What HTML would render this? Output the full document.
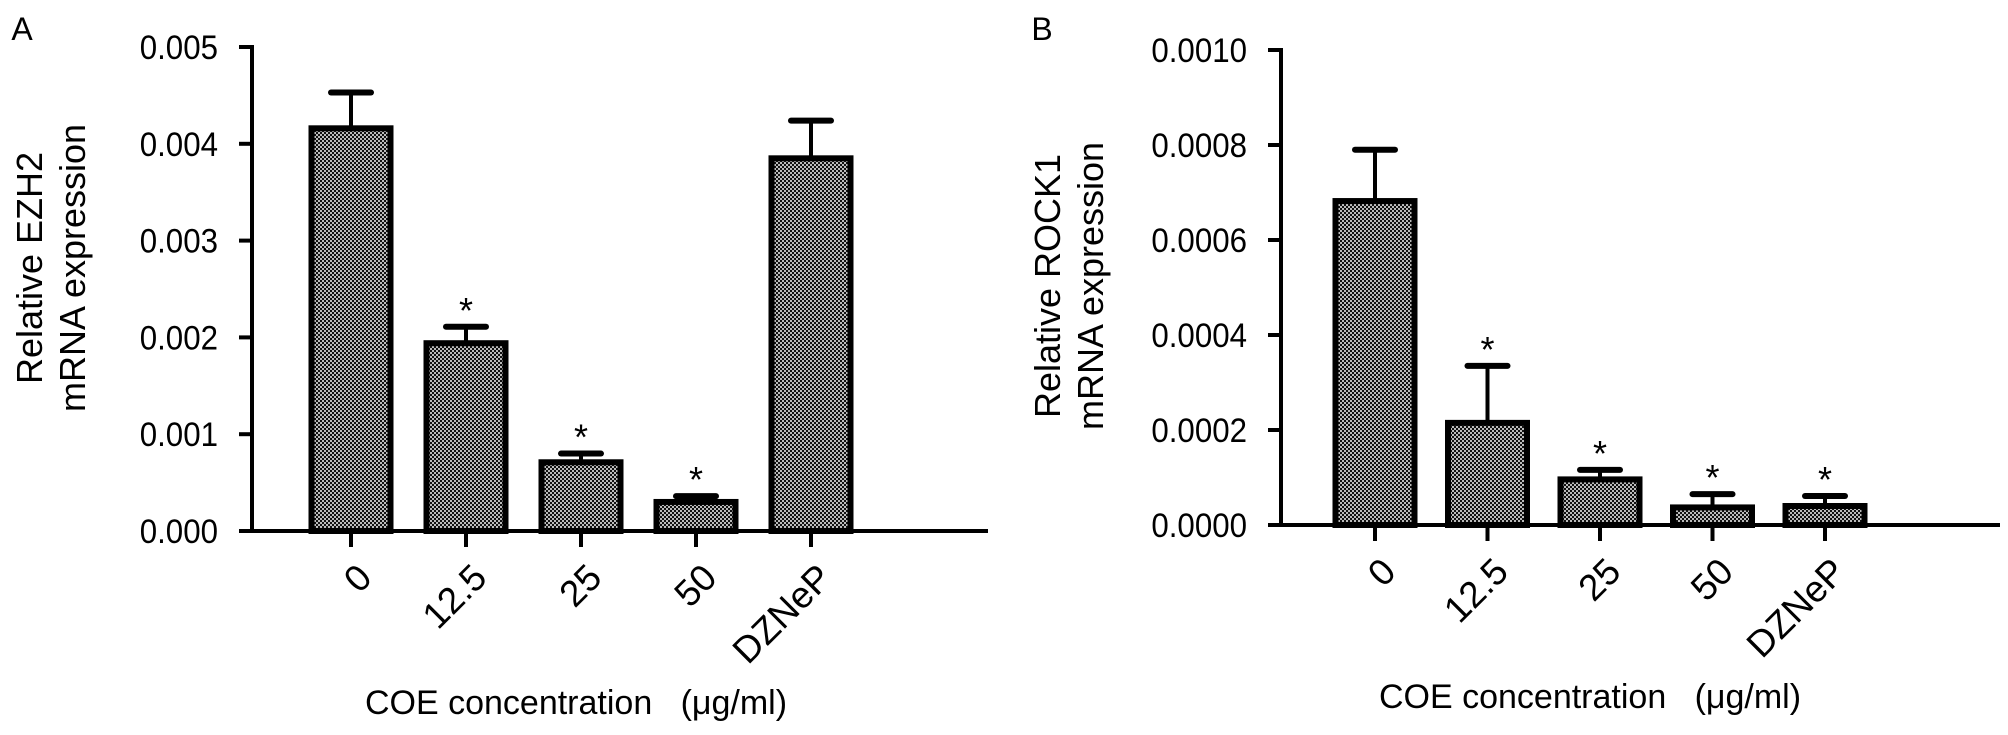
<!DOCTYPE html>
<html><head><meta charset="utf-8"><style>
html,body{margin:0;padding:0;background:#fff;}
svg{display:block;font-family:"Liberation Sans",Arial,sans-serif;}
</style></head><body>
<svg id="fig" width="2008" height="735" viewBox="0 0 2008 735" xmlns="http://www.w3.org/2000/svg">
<defs>
<pattern id="dots" width="4" height="4" patternUnits="userSpaceOnUse">
<rect width="4" height="4" fill="#bbb"/>
<rect x="0" y="0" width="2" height="2" fill="#111"/>
<rect x="2" y="2" width="2" height="2" fill="#111"/>
</pattern>
</defs>
</svg>
<script>
// ---- data ----
const categories = ["0", "12.5", "25", "50", "DZNeP"];
const ezh2Values = [0.00416, 0.00194, 0.00071, 0.00030, 0.00385];
const ezh2Errors = [0.00037, 0.00017, 0.00009, 0.00006, 0.00039];
const ezh2Stars = [false, true, true, true, false];
const ezh2Ticks = ["0.000", "0.001", "0.002", "0.003", "0.004", "0.005"];
const rock1Values = [0.000682, 0.000215, 0.000096, 0.000037, 0.000040];
const rock1Errors = [0.000108, 0.000120, 0.000020, 0.000028, 0.000021];
const rock1Stars = [false, true, true, true, true];
const rock1Ticks = ["0.0000", "0.0002", "0.0004", "0.0006", "0.0008", "0.0010"];

const NS = "http://www.w3.org/2000/svg";
const svg = document.getElementById('fig');
function mk(tag, attrs, parent, text) {
  const e = document.createElementNS(NS, tag);
  for (const k in attrs) e.setAttribute(k, attrs[k]);
  if (text !== undefined) e.textContent = text;
  (parent || svg).appendChild(e);
  return e;
}

function drawPanel(p) {
  const g = mk('g', {});
  
  
  const yMax = parseFloat(p.ticks[p.ticks.length - 1]);
  const y = v => p.y0 - (v / yMax) * (p.y0 - p.yTop);
  const x = i => p.x0 + p.firstOff + i * p.step;

  const letter = mk('text', {x: p.letterX, y: 40, 'font-size': 32, 'text-anchor': 'middle'}, g, p.letter);
  
  

  const yt = mk('text', {transform: `translate(${p.titleX},${p.titleY}) rotate(-90)`, 'font-size': 36, 'text-anchor': 'middle'}, g);
  
  
  mk('tspan', {x: 0, y: 0}, yt, p.title1);
  mk('tspan', {x: 0, y: 43}, yt, p.title2);

  const ya = mk('line', {x1: p.x0, y1: p.yTop - 2, x2: p.x0, y2: p.y0 + 2, stroke: '#000', 'stroke-width': 4}, g);
  
  
  p.ticks.forEach(t => {
    const yy = y(parseFloat(t));
    const tk = mk('line', {x1: p.x0 - 13, y1: yy, x2: p.x0, y2: yy, stroke: '#000', 'stroke-width': 4}, g);
    
    
    const tl = mk('text', {x: p.x0 - 34, y: yy + 12, 'font-size': 34, 'text-anchor': 'end', transform: `translate(${(p.x0 - 34) * 0.08} 0) scale(0.92 1)`}, g, t);
    
    
  });

  p.values.forEach((v, i) => {
    const cx = x(i);
    const top = y(v);
    const bar = mk('rect', {x: cx - p.barW / 2, y: top, width: p.barW, height: p.y0 - top, fill: 'url(#dots)', stroke: '#000', 'stroke-width': 6}, g);
    
    
    const ey = y(v + p.errors[i]);
    const stem = mk('line', {x1: cx, y1: top, x2: cx, y2: ey, stroke: '#000', 'stroke-width': 4}, g);
    
    
    const cap = mk('line', {x1: cx - 20, y1: ey, x2: cx + 20, y2: ey, stroke: '#000', 'stroke-width': 6, 'stroke-linecap': 'round'}, g);
    
    
    if (p.stars[i]) {
      const st = mk('text', {x: cx, y: ey - 4, 'font-size': 36, 'text-anchor': 'middle'}, g, '*');
      
      
    }
    const xt = mk('line', {x1: cx, y1: p.y0, x2: cx, y2: p.y0 + 16, stroke: '#000', 'stroke-width': 4}, g);
    
    
    const ax = cx + 14, ay = p.y0 + 40;
    const xl = mk('text', {x: ax, y: ay, transform: `rotate(-45 ${ax} ${ay})`, 'font-size': 37, 'text-anchor': 'end', 'dominant-baseline': 'central'}, g, categories[i]);
    
    
  });

  const xa = mk('line', {x1: p.x0 - 13, y1: p.y0, x2: p.xEnd, y2: p.y0, stroke: '#000', 'stroke-width': 4}, g);
  
  

  const xtitle = mk('text', {x: p.xTitleX, y: p.xTitleY, 'font-size': 34, 'text-anchor': 'middle'}, g, 'COE concentration\u00a0\u00a0\u00a0(\u03bcg/ml)');
  
  
}

drawPanel({name: 'panel-a-ezh2-chart', letter: 'A', letterX: 22, x0: 252, y0: 531, yTop: 47, firstOff: 99, step: 115, barW: 79, xEnd: 988,
  values: ezh2Values, errors: ezh2Errors, stars: ezh2Stars, ticks: ezh2Ticks,
  title1: 'Relative EZH2', title2: 'mRNA expression', titleX: 42, titleY: 268, xTitleX: 576, xTitleY: 714});
drawPanel({name: 'panel-b-rock1-chart', letter: 'B', letterX: 1042, x0: 1281, y0: 525, yTop: 50, firstOff: 94, step: 112.5, barW: 79, xEnd: 2000,
  values: rock1Values, errors: rock1Errors, stars: rock1Stars, ticks: rock1Ticks,
  title1: 'Relative ROCK1', title2: 'mRNA expression', titleX: 1060, titleY: 286, xTitleX: 1590, xTitleY: 708});
</script>
</body></html>
